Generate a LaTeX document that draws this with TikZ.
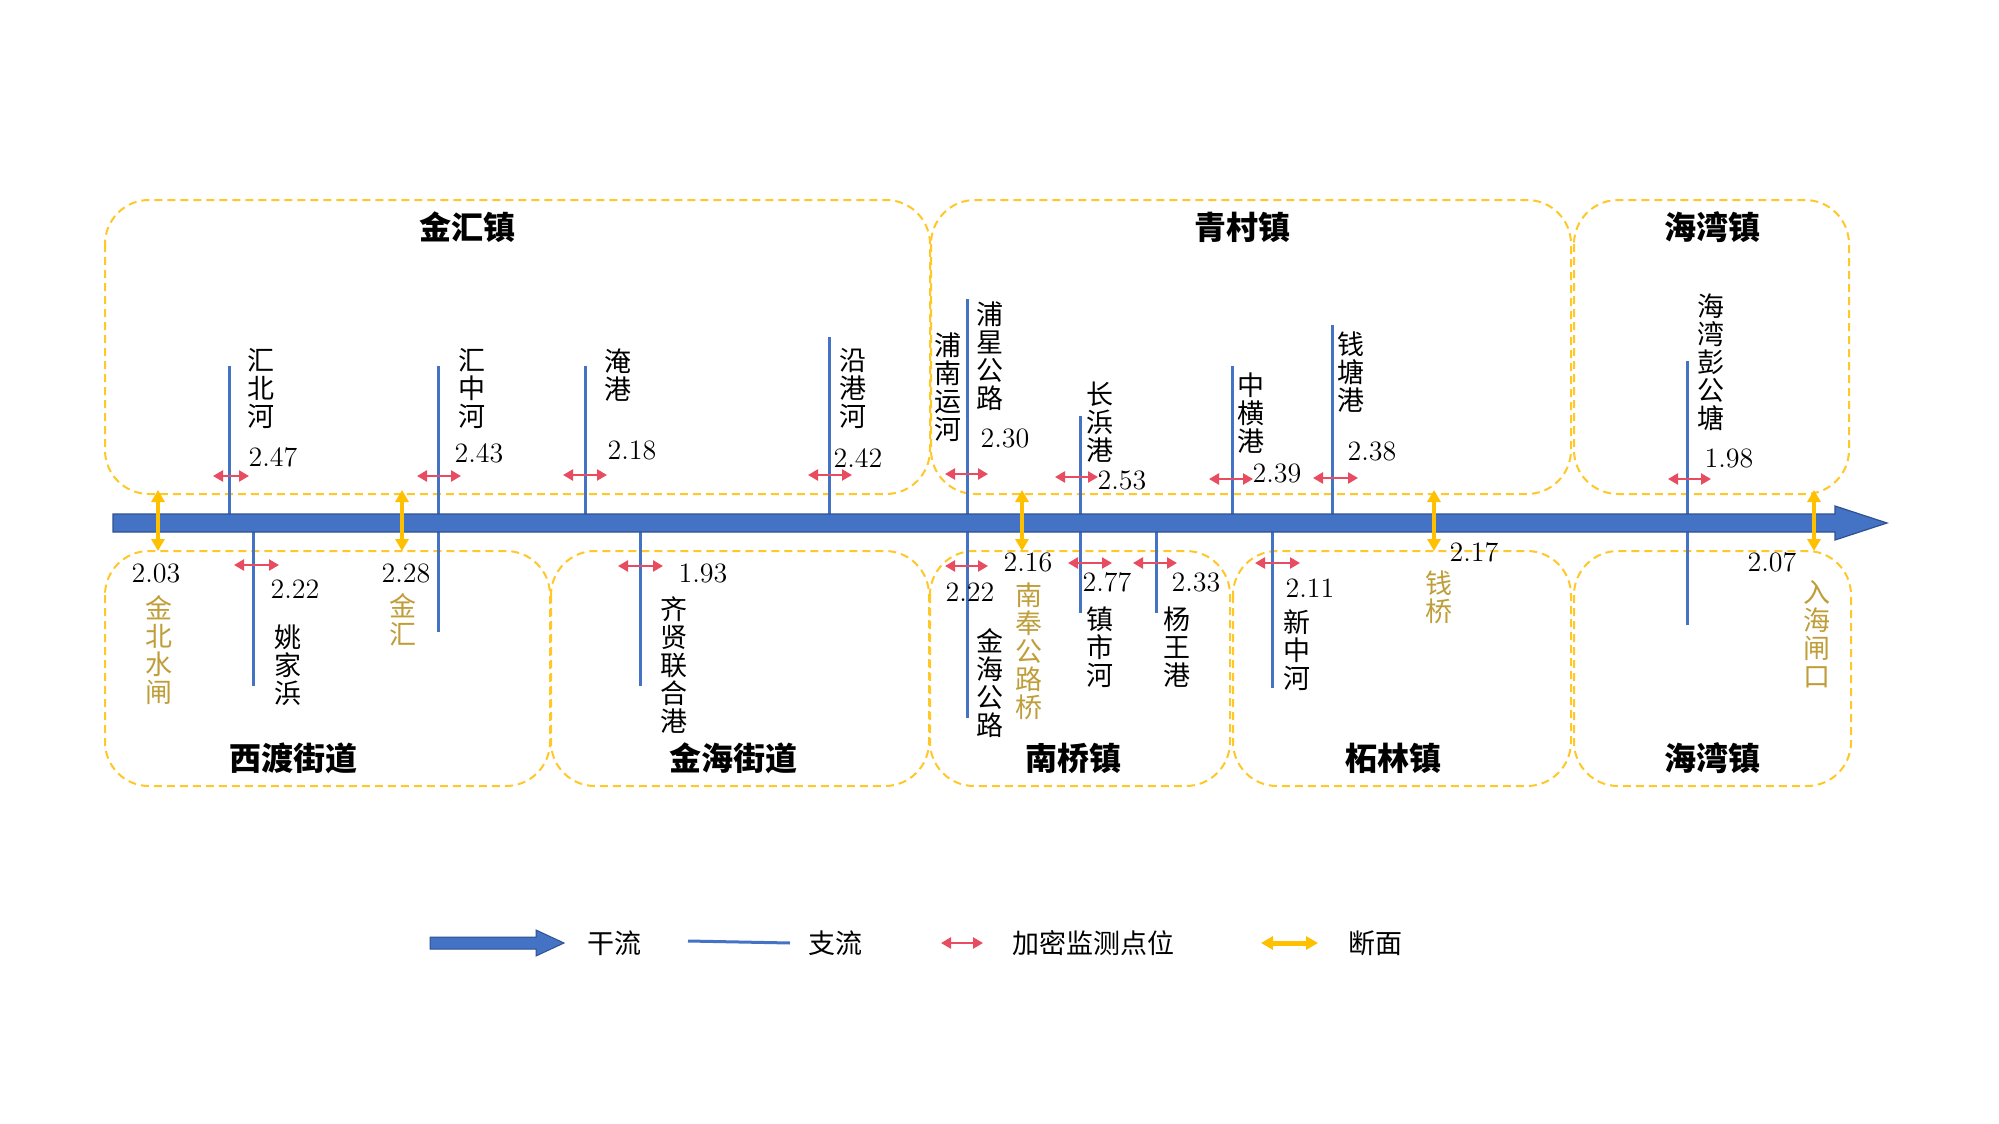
\documentclass[tikz,border=0pt]{standalone}
\usepackage{fontspec}
\newfontfamily\cjk{Noto Sans CJK SC}
\usetikzlibrary{arrows.meta}
\definecolor{mainblue}{RGB}{68,114,196}
\definecolor{mainborder}{RGB}{47,82,143}
\definecolor{monred}{RGB}{231,76,96}
\definecolor{secyellow}{RGB}{255,192,0}
\definecolor{boxyellow}{RGB}{255,200,40}
\definecolor{secgold}{RGB}{191,158,58}
\tikzset{
 zone/.style={draw=boxyellow, line width=1pt, dash pattern=on 4pt off 2.5pt, rounded corners=22pt},
 branch/.style={draw=mainblue, line width=1.5pt},
 monitor/.style={draw=monred, line width=1.2pt, {Triangle[length=5pt,width=5.5pt]}-{Triangle[length=5pt,width=5.5pt]}},
 section/.style={draw=secyellow, line width=2pt, {Triangle[length=6pt,width=6.5pt]}-{Triangle[length=6pt,width=6.5pt]}},
 lab/.style={inner sep=0pt, align=center, font=\cjk\fontsize{13.5pt}{14pt}\selectfont},
 seclab/.style={lab, text=secgold},
 num/.style={inner sep=0pt, font=\fontsize{14pt}{14pt}\selectfont},
 title/.style={inner sep=0pt, font=\cjk\bfseries\fontsize{16pt}{16pt}\selectfont},
}
\newcommand{\branchline}[4]{\coordinate (#1-t) at (#2,#3); \coordinate (#1-b) at (#2,#4); \draw[branch] (#1-t) -- (#1-b);}
\newcommand{\monpt}[4]{\coordinate (#1-l) at (#2,#4); \coordinate (#1-r) at (#3,#4); \draw[monitor] (#1-l) -- (#1-r);}
\newcommand{\secpt}[2]{\coordinate (#1-t) at (#2,490); \coordinate (#1-b) at (#2,551); \draw[section] (#1-t) -- (#1-b);}
\begin{document}
\begin{tikzpicture}[x=0.5pt,y=-0.5pt]
\useasboundingbox (0,0) rectangle (1999,1124);
\fill[white] (0,0) rectangle (1999,1124);
% zones
\draw[zone] (105,200) rectangle (930,494);
\draw[zone] (931,200) rectangle (1571,494);
\draw[zone] (1574,200) rectangle (1849,494);
\draw[zone] (105,551) rectangle (550,786);
\draw[zone] (551,551) rectangle (929,786);
\draw[zone] (930,551) rectangle (1230,786);
\draw[zone] (1233,551) rectangle (1571,786);
\draw[zone] (1574,551) rectangle (1851,786);
% titles
\node[title] (t1) at (467,227) {金汇镇};
\node[title] (t2) at (1242,227) {青村镇};
\node[title] (t3) at (1712,227) {海湾镇};
\node[title] (t4) at (293,758) {西渡街道};
\node[title] (t5) at (733,758) {金海街道};
\node[title] (t6) at (1073,758) {南桥镇};
\node[title] (t7) at (1393,758) {柘林镇};
\node[title] (t8) at (1712,758) {海湾镇};
% branches
\branchline{hb}{229}{366}{523}
\branchline{hz}{438}{366}{632}
\branchline{yg}{585}{366}{523}
\branchline{ygh}{829}{337}{523}
\branchline{px}{967}{299}{718}
\branchline{cb}{1080}{416}{613}
\branchline{zh}{1232}{366}{523}
\branchline{qt}{1332}{325}{523}
\branchline{hw}{1687}{361}{625}
\branchline{yj}{253}{523}{686}
\branchline{qx}{640}{523}{686}
\branchline{yw}{1156}{523}{613}
\branchline{xz}{1272}{523}{688}
% main stream
\coordinate (ms) at (113,523);
\coordinate (me) at (1887,523);
\draw[mainborder, fill=mainblue, line width=0.6pt] (113,514) -- (1835,514) -- (1835,506) -- (me) -- (1835,540) -- (1835,532) -- (113,532) -- cycle;
% monitoring points
\monpt{m1}{213}{249}{476}
\monpt{m2}{417}{461}{476}
\monpt{m3}{563}{607}{475}
\monpt{m4}{808}{852}{475}
\monpt{m5}{945}{988}{474}
\monpt{m6}{1055}{1098}{477}
\monpt{m7}{1209}{1253}{479}
\monpt{m8}{1313}{1358}{478}
\monpt{m9}{1668}{1711}{479}
\monpt{m10}{234}{279}{565}
\monpt{m11}{618}{663}{566}
\monpt{m12}{945}{988}{566}
\monpt{m13}{1068}{1112}{563}
\monpt{m14}{1133}{1177}{563}
\monpt{m15}{1255}{1300}{563}
% sections
\secpt{s1}{158}
\secpt{s2}{402}
\secpt{s3}{1022}
\secpt{s4}{1434}
\secpt{s5}{1814}
% upper labels
\node[lab] (l1) at (261,389) {汇\\北\\河};
\node[lab] (l2) at (472,389) {汇\\中\\河};
\node[lab] (l3) at (618,375) {淹\\港};
\node[lab] (l4) at (853,389) {沿\\港\\河};
\node[lab] (l5) at (948,387) {浦\\南\\运\\河};
\node[lab] (l6) at (990,356) {浦\\星\\公\\路};
\node[lab] (l7) at (1100,422) {长\\浜\\港};
\node[lab] (l8) at (1251,413) {中\\横\\港};
\node[lab] (l9) at (1351,372) {钱\\塘\\港};
\node[lab] (l10) at (1711,362) {海\\湾\\彭\\公\\塘};
% upper numbers
\node[num] (n1) at (273,457) {2.47};
\node[num] (n2) at (479,453) {2.43};
\node[num] (n3) at (632,450) {2.18};
\node[num] (n4) at (858,458) {2.42};
\node[num] (n5) at (1005,438) {2.30};
\node[num] (n6) at (1122,480) {2.53};
\node[num] (n7) at (1277,473) {2.39};
\node[num] (n8) at (1372,451) {2.38};
\node[num] (n9) at (1729,458) {1.98};
% lower labels
\node[lab] (l11) at (288,665) {姚\\家\\浜};
\node[lab] (l12) at (674,665) {齐\\贤\\联\\合\\港};
\node[lab] (l13) at (990,683) {金\\海\\公\\路};
\node[lab] (l14) at (1100,647) {镇\\市\\河};
\node[lab] (l15) at (1177,647) {杨\\王\\港};
\node[lab] (l16) at (1297,650) {新\\中\\河};
% lower numbers
\node[num] (n10) at (295,589) {2.22};
\node[num] (n11) at (703,573) {1.93};
\node[num] (n12) at (970,592) {2.22};
\node[num] (n13) at (1107,582) {2.77};
\node[num] (n14) at (1196,582) {2.33};
\node[num] (n15) at (1310,588) {2.11};
% section labels
\node[num] (n16) at (156,573) {2.03};
\node[seclab] (sl1) at (159,650) {金\\北\\水\\闸};
\node[num] (n17) at (406,573) {2.28};
\node[seclab] (sl2) at (403,620) {金\\汇};
\node[num] (n18) at (1028,562) {2.16};
\node[seclab] (sl3) at (1029,651) {南\\奉\\公\\路\\桥};
\node[num] (n19) at (1474,552) {2.17};
\node[seclab] (sl4) at (1439,597) {钱\\桥};
\node[num] (n20) at (1772,562) {2.07};
\node[seclab] (sl5) at (1817,634) {入\\海\\闸\\口};
% legend
\coordinate (lg1a) at (430,943);
\coordinate (lg1b) at (564,943);
\draw[mainborder, fill=mainblue, line width=0.5pt] (430,937) -- (536,937) -- (536,930) -- (lg1b) -- (536,956) -- (536,949) -- (430,949) -- cycle;
\node[lab] (lg1) at (614,943) {干流};
\coordinate (lg2a) at (688,941);
\coordinate (lg2b) at (790,943);
\draw[branch] (lg2a) -- (lg2b);
\node[lab] (lg2) at (835,943) {支流};
\coordinate (lg3a) at (941,943);
\coordinate (lg3b) at (983,943);
\draw[monitor] (lg3a) -- (lg3b);
\node[lab] (lg3) at (1093,943) {加密监测点位};
\coordinate (lg4a) at (1261,943);
\coordinate (lg4b) at (1318,943);
\draw[section, line width=2.5pt] (lg4a) -- (lg4b);
\node[lab] (lg4) at (1375,943) {断面};
\end{tikzpicture}
\end{document}
